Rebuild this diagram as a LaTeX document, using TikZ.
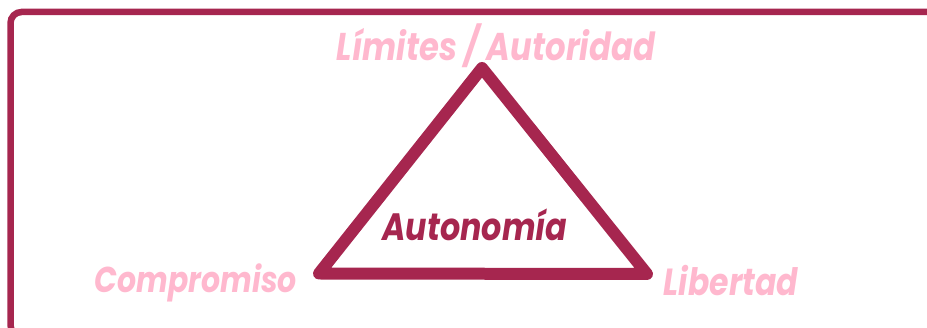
\documentclass[tikz,border=0pt]{standalone}
\usepackage{fontspec}
\usepackage{graphicx}
\setmainfont{Poppins}
\definecolor{crim}{HTML}{A6264F}
\definecolor{lpink}{HTML}{FFB8CE}
\newcommand{\fittext}[2]{\scalebox{1}[1.2]{\resizebox{#1}{!}{#2}}}
\begin{document}
\begin{tikzpicture}[x=1pt,y=-1pt,
  lbl/.style={text=lpink,font=\bfseries\itshape,inner sep=0pt,anchor=center},
  ctr/.style={text=crim,font=\bfseries\itshape,inner sep=0pt,anchor=center}]
\useasboundingbox (0,0) rectangle (927,328);
\begin{scope}
\clip (0,0) rectangle (927,328);
\draw[crim,line width=6.5pt,rounded corners=11pt] (10.5,12) rectangle (945,336);
\end{scope}
\coordinate (A) at (482,68);
\coordinate (B) at (319,273.5);
\coordinate (C) at (647,274);
\draw[crim,line width=12pt,line join=round] (A) -- (B) -- (C) -- cycle;
\node[lbl] (top) at (496,46) {\fittext{318pt}{Límites / Autoridad}};
\node[lbl] (left) at (196,283) {\fittext{202pt}{Compromiso}};
\node[lbl] (right) at (731,281) {\fittext{134pt}{Libertad}};
\node[ctr] (mid) at (475,225) {\fittext{185pt}{Autonomía}};
\end{tikzpicture}
\end{document}
